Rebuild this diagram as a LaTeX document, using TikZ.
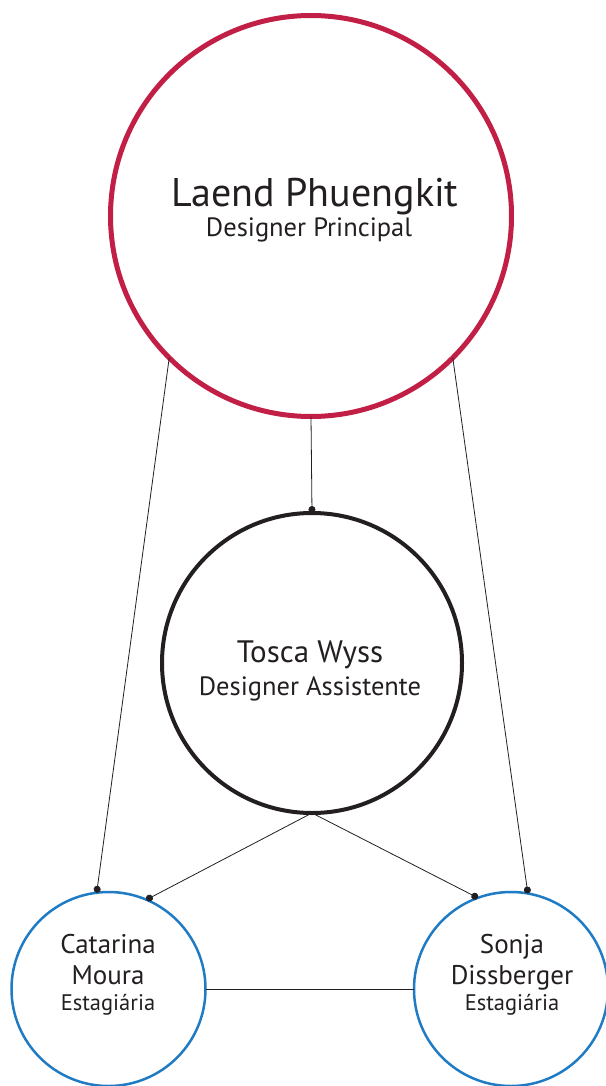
\documentclass[tikz,border=0pt]{standalone}
\usepackage{fontspec}
\setmainfont{PT Sans}
\usetikzlibrary{arrows.meta}
\definecolor{leadred}{HTML}{C21F47}
\definecolor{internblue}{HTML}{1F7BC4}
\definecolor{ink}{HTML}{231F20}

\begin{document}
\begin{tikzpicture}[x=1pt, y=-1pt,
    person/.style={circle, draw, inner sep=0pt, outer sep=0pt},
    link/.style={ink, line width=0.8pt, -{Circle[length=7pt]}},
    bigname/.style={anchor=base, ink, font=\fontsize{40}{42}\selectfont},
    midname/.style={anchor=base, ink, font=\fontsize{31}{33}\selectfont},
    smallname/.style={anchor=base, ink, font=\fontsize{27}{29}\selectfont},
    role/.style={anchor=base, ink, font=\fontsize{#1}{#1}\selectfont}]
    \useasboundingbox (0,0) rectangle (605,1086);
    \node[person, leadred, line width=5pt, minimum size=401pt] (lead) at (311,216) {};
    \node[person, ink, line width=4pt, minimum size=300pt] (assist) at (312,663) {};
    \node[person, internblue, line width=2.5pt, minimum size=194pt] (catarina) at (108.5,989) {};
    \node[person, internblue, line width=2.5pt, minimum size=194pt] (sonja) at (511,989) {};

    \node[bigname] (leadname) at (315,207) {Laend Phuengkit};
    \node[role=26.5] (leadrole) at (309,236) {Designer Principal};
    \node[midname] (assistname) at (310,662) {Tosca Wyss};
    \node[role=26.5] (assistrole) at (310,695) {Designer Assistente};
    \node[smallname] (catname1) at (108,953) {Catarina};
    \node[smallname] (catname2) at (108,984) {Moura};
    \node[role=22.5] (catrole) at (108,1010) {Estagiária};
    \node[smallname] (sonname1) at (512,953) {Sonja};
    \node[smallname] (sonname2) at (512,984) {Dissberger};
    \node[role=22.5] (sonrole) at (512,1010) {Estagiária};

    \draw[link] (lead.south) -- (assist.north);
    \draw[link] (lead.225.6) -- (catarina.97.6);
    \draw[link] (lead.315) -- (sonja.80.4);
    \draw[link] (assist.south) -- (catarina.67.7);
    \draw[link] (assist.south) -- (sonja.110.3);
    \draw[ink, line width=0.8pt] (catarina.east) -- (sonja.west);
\end{tikzpicture}
\end{document}
